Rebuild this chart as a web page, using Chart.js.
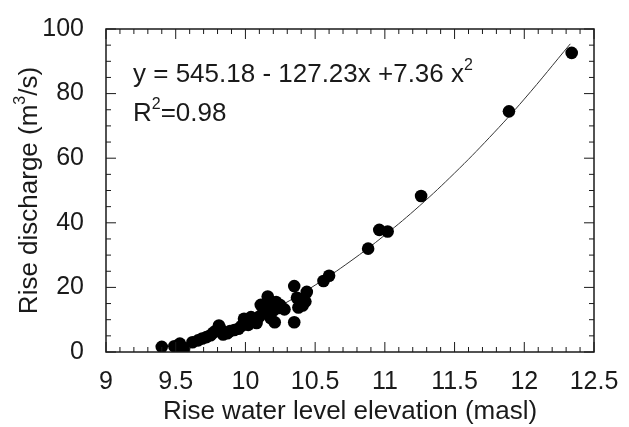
<!DOCTYPE html>
<html>
<head>
<meta charset="utf-8">
<script src="https://cdn.jsdelivr.net/npm/chart.js@4.4.1/dist/chart.umd.min.js"></script>
<style>
  html, body { margin: 0; padding: 0; background: #fff; }
  #wrap { width: 629px; height: 427px; }
</style>
</head>
<body>
<div id="wrap"><canvas id="riseChart" width="629" height="427"></canvas></div>
<script>
const elevation = [
  9.40, 9.49, 9.53, 9.54, 9.56, 9.62, 9.66, 9.69, 9.72, 9.75,
  9.77, 9.79, 9.81, 9.82, 9.84, 9.87, 9.89, 9.92, 9.95, 9.97,
  9.99, 10.01, 10.02, 10.04, 10.06, 10.08, 10.10, 10.11, 10.13, 10.14,
  10.16, 10.17, 10.18, 10.20, 10.21, 10.22, 10.24, 10.25, 10.28, 10.35,
  10.35, 10.37, 10.38, 10.41, 10.43, 10.44, 10.56, 10.60, 10.88, 10.96,
  11.02, 11.26, 11.89, 12.34
];
const discharge = [
  1.6, 1.8, 2.6, 0.4, 1.2, 3.0, 3.6, 4.2, 4.6, 5.2,
  6.0, 6.6, 8.2, 7.2, 5.4, 5.8, 6.5, 6.8, 7.2, 8.0,
  10.3, 9.2, 8.4, 10.8, 9.6, 9.0, 11.0, 14.6, 12.8, 14.0,
  17.2, 16.0, 10.5, 12.8, 9.2, 15.5, 13.6, 14.5, 13.2, 20.4,
  9.2, 16.8, 13.8, 14.4, 15.6, 18.6, 22.0, 23.6, 32.0, 37.8,
  37.3, 48.3, 74.5, 92.6
];

// fitted curve as traced on the figure
const fitX = [9.55, 9.75, 10.0, 10.25, 10.5, 10.75, 11.0, 11.25, 11.5, 11.75, 12.0, 12.33];
const fitY = [1.5, 4.3, 8.9, 14.3, 20.7, 28.0, 36.2, 45.3, 55.4, 66.4, 78.3, 95.4];

const xTicks = [9, 9.5, 10, 10.5, 11, 11.5, 12, 12.5];
const yTicks = [0, 20, 40, 60, 80, 100];

const FONT = '"Liberation Sans", Arial, Helvetica, sans-serif';
const INK = '#1a1a1a';

// draw text pieces left to right, [text, isSuperscript]
function drawRich(ctx, parts, x, y, size) {
  let cx = x;
  parts.forEach(([txt, sup]) => {
    ctx.font = (sup ? Math.round(size * 0.62) : size) + 'px ' + FONT;
    ctx.fillText(txt, cx, sup ? y - size * 0.36 : y);
    cx += ctx.measureText(txt).width;
  });
}

// frame with inward ticks on all four sides, equation text, y title
const frameTicks = {
  id: 'frameTicks',
  afterDraw(chart) {
    const { ctx, chartArea: a, scales } = chart;
    const xs = scales.x, ys = scales.y;
    ctx.save();
    ctx.strokeStyle = INK;
    ctx.lineWidth = 1.5;
    ctx.strokeRect(a.left, a.top, a.right - a.left, a.bottom - a.top);

    ctx.lineWidth = 1;
    ctx.beginPath();
    for (let i = 0; i <= 35; i++) {
      const px = xs.getPixelForValue(9 + i / 10);
      const len = (i % 5 === 0) ? 10 : 5;
      ctx.moveTo(px, a.bottom); ctx.lineTo(px, a.bottom - len);
      ctx.moveTo(px, a.top); ctx.lineTo(px, a.top + len);
    }
    for (let j = 0; j <= 20; j++) {
      const py = ys.getPixelForValue(j * 5);
      const len = (j % 4 === 0) ? 10 : 5;
      ctx.moveTo(a.left, py); ctx.lineTo(a.left + len, py);
      ctx.moveTo(a.right, py); ctx.lineTo(a.right - len, py);
    }
    ctx.stroke();

    ctx.fillStyle = INK;
    ctx.textBaseline = 'middle';
    ctx.textAlign = 'left';
    drawRich(ctx, [['y = 545.18 - 127.23x +7.36 x', false], ['2', true]], a.left + 27, a.top + 46, 26);
    drawRich(ctx, [['R', false], ['2', true], ['=0.98', false]], a.left + 27, a.top + 85, 26);

    // y axis title with superscript
    const p1 = 'Rise discharge (m', p3 = '/s)';
    ctx.font = '26px ' + FONT;
    const w1 = ctx.measureText(p1).width, w3 = ctx.measureText(p3).width;
    ctx.font = '16px ' + FONT;
    const w2 = ctx.measureText('3').width;
    const total = w1 + w2 + w3;
    ctx.translate(30, (a.top + a.bottom) / 2);
    ctx.rotate(-Math.PI / 2);
    drawRich(ctx, [[p1, false], ['3', true], [p3, false]], -total / 2, 0, 26);
    ctx.restore();
  }
};

const ctx = document.getElementById('riseChart').getContext('2d');
const riseChart = new Chart(ctx, {
  type: 'scatter',
  data: {
    datasets: [
      {
        label: 'Fit',
        type: 'line',
        data: fitX.map((x, i) => ({ x: x, y: fitY[i] })),
        borderColor: '#333',
        borderWidth: 1,
        pointRadius: 0,
        fill: false,
        tension: 0.4,
        order: 2
      },
      {
        label: 'Rise discharge',
        data: elevation.map((x, i) => ({ x: x, y: discharge[i] })),
        backgroundColor: '#000',
        borderColor: '#000',
        pointRadius: 6.3,
        borderWidth: 0,
        order: 1
      }
    ]
  },
  options: {
    responsive: false,
    animation: false,
    layout: { padding: { top: 24, right: 35, left: 0, bottom: 0 } },
    plugins: {
      legend: { display: false },
      tooltip: { enabled: false }
    },
    scales: {
      x: {
        type: 'linear',
        min: 9,
        max: 12.5,
        afterFit: (scale) => { scale.height = 75; },
        afterBuildTicks: (scale) => { scale.ticks = xTicks.map(v => ({ value: v })); },
        grid: { display: false },
        border: { display: false },
        ticks: {
          color: INK,
          padding: 7,
          maxRotation: 0,
          autoSkip: false,
          callback: (v) => String(v),
          font: { family: FONT, size: 25 }
        },
        title: {
          display: true,
          text: 'Rise water level elevation (masl)',
          color: INK,
          padding: { top: 0, bottom: 0 },
          font: { family: FONT, size: 26 }
        }
      },
      y: {
        min: 0,
        max: 100,
        afterFit: (scale) => { scale.width = 106; },
        afterBuildTicks: (scale) => { scale.ticks = yTicks.map(v => ({ value: v })); },
        grid: { display: false },
        border: { display: false },
        ticks: {
          color: INK,
          padding: 14,
          callback: (v) => String(v),
          font: { family: FONT, size: 25 }
        },
        title: { display: false }
      }
    }
  },
  plugins: [frameTicks]
});
</script>
</body>
</html>
